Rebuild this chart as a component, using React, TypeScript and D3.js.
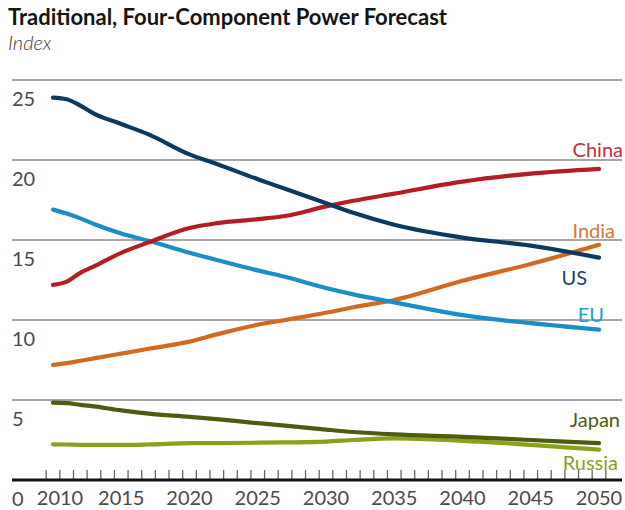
import React from "react";
import * as d3 from "d3";

const years = [2010, 2011, 2012, 2013, 2015, 2017, 2020, 2022, 2025, 2027, 2030, 2032, 2035, 2040, 2045, 2050];
const usValues = [23.9, 23.8, 23.4, 22.9, 22.25, 21.6, 20.35, 19.75, 18.8, 18.2, 17.3, 16.7, 15.95, 15.15, 14.65, 13.9];
const chinaValues = [12.2, 12.4, 12.95, 13.35, 14.2, 14.85, 15.75, 16.05, 16.3, 16.5, 17.1, 17.45, 17.9, 18.65, 19.15, 19.45];
const euValues = [16.9, 16.65, 16.35, 16.0, 15.4, 14.95, 14.2, 13.75, 13.1, 12.7, 12.0, 11.6, 11.1, 10.3, 9.8, 9.4];
const indiaValues = [7.2, 7.3, 7.45, 7.6, 7.9, 8.2, 8.65, 9.1, 9.7, 10.0, 10.45, 10.8, 11.25, 12.45, 13.5, 14.7];
const japanValues = [4.83, 4.8, 4.7, 4.6, 4.35, 4.15, 3.95, 3.8, 3.55, 3.4, 3.15, 3.0, 2.85, 2.7, 2.5, 2.3];
const russiaValues = [2.23, 2.22, 2.2, 2.19, 2.19, 2.22, 2.3, 2.31, 2.33, 2.35, 2.4, 2.5, 2.6, 2.45, 2.2, 1.9];

const seriesNames = ["Russia", "Japan", "India", "EU", "China", "US"];
const seriesColors = ["#8aa11b", "#4a5d10", "#d3681f", "#1b8ec3", "#b51d24", "#0c3a5e"];
const labelColors = ["#8aa11b", "#4a5d10", "#d3773a", "#2a9ad0", "#c0333a", "#1a4468"];
const labelOffsets: [number, number][] = [[19, 20], [21, -16], [16, -7], [5, -8], [24, -12], [-12, 27]];

const yTicks = [0, 5, 10, 15, 20, 25];
const xLabels = [2010, 2015, 2020, 2025, 2030, 2035, 2040, 2045, 2050];

const title = "Traditional, Four-Component Power Forecast";
const unitLabel = "Index";

export default function App() {
  const W = 625, H = 510;
  const x = d3.scaleLinear().domain([2010, 2050]).range([53, 599]);
  const y = d3.scaleLinear().domain([0, 25]).range([480, 80]);
  const valueSets = [russiaValues, japanValues, indiaValues, euValues, chinaValues, usValues];
  const line = d3.line<[number, number]>().x(d => x(d[0])).y(d => y(d[1])).curve(d3.curveMonotoneX);
  const tickYears = d3.range(2010, 2052).map(v => v - 0.5);
  const font = "Lato, 'Open Sans', sans-serif";
  const left = 12, right = 622;

  return (
    <svg width={W} height={H} style={{ position: "absolute", left: 0, top: 0, background: "#fff" }} fontFamily={font}>
      <text x={8} y={25} fontSize={22} fontWeight={700} fill="#151515">{title}</text>
      <text x={8} y={50} fontSize={20} fontStyle="italic" fontWeight={300} fill="#3a3a3a">{unitLabel}</text>
      {yTicks.filter(t => t > 0).map(t => (
        <line key={t} x1={left} x2={right} y1={y(t)} y2={y(t)} stroke="#a6a6a6" strokeWidth={2} />
      ))}
      {yTicks.map(t => (
        <text key={"l" + t} x={left} y={y(t) + 26} fontSize={20} fill="#4a4a4a">{t}</text>
      ))}
      {tickYears.map(t => (
        <line key={"t" + t} x1={x(t)} x2={x(t)} y1={470} y2={480} stroke="#666" strokeWidth={1.3} />
      ))}
      <line x1={left} x2={right} y1={y(0)} y2={y(0)} stroke="#111" strokeWidth={3} />
      {xLabels.map((t, i) => (
        <text key={"x" + t} x={x(t) + (i === 0 ? 7 : 0)} y={505} fontSize={20} fill="#4a4a4a" textAnchor="middle">{t}</text>
      ))}
      {valueSets.map((vals, i) => {
        const pts: [number, number][] = years.map((yr, j) => [yr, vals[j]]);
        return (
          <path key={seriesNames[i]} d={line(pts) || ""} fill="none" stroke={seriesColors[i]} strokeWidth={4.2} strokeLinecap="round" strokeLinejoin="round" />
        );
      })}
      {valueSets.map((vals, i) => (
        <text key={"n" + i} x={x(2050) + labelOffsets[i][0]} y={y(vals[vals.length - 1]) + labelOffsets[i][1]} fontSize={20} fill={labelColors[i]} textAnchor="end">{seriesNames[i]}</text>
      ))}
    </svg>
  );
}
